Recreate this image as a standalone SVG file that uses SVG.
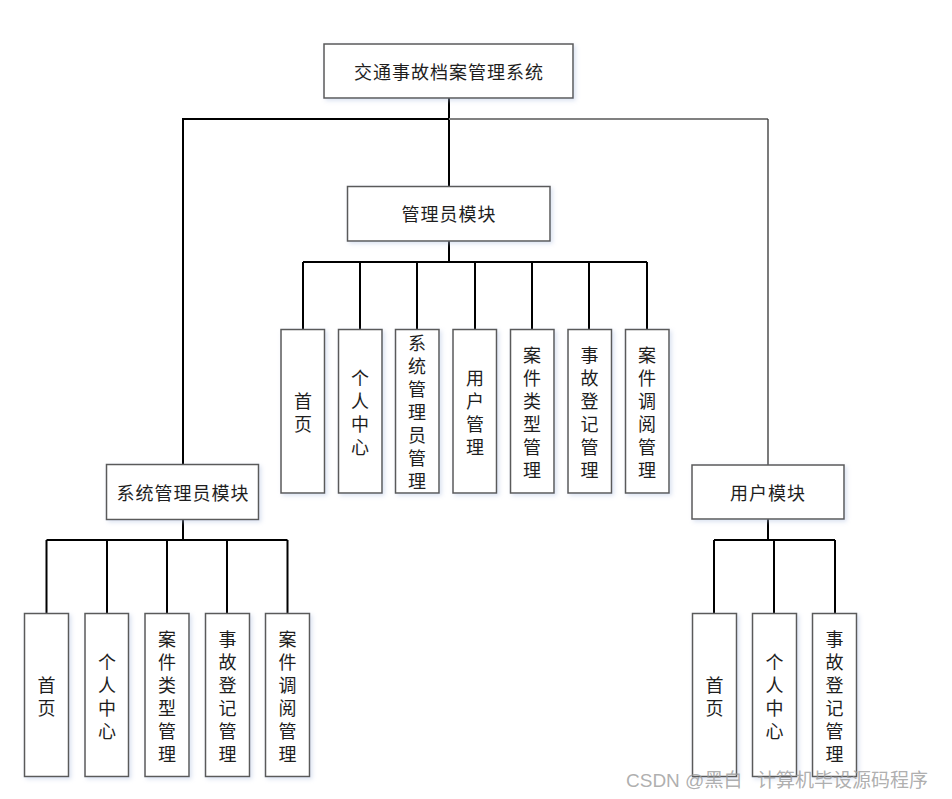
<svg xmlns="http://www.w3.org/2000/svg" width="952" height="799" viewBox="0 0 952 799">
<defs>
<filter id="sh" x="-20%" y="-20%" width="140%" height="140%">
<feDropShadow dx="2" dy="2" stdDeviation="2" flood-color="#aebfe0" flood-opacity="0.45"/>
</filter>
</defs>
<style>
.box{fill:#ffffff;stroke:#5a5a5a;stroke-width:1.5;filter:url(#sh)}
.t{font-family:"Noto Sans CJK SC","Noto Sans",sans-serif;font-size:18px;fill:#1e1e1e;text-anchor:middle;dominant-baseline:central;letter-spacing:1px}
.v{font-family:"Noto Sans CJK SC","Noto Sans",sans-serif;font-size:18px;fill:#1e1e1e;text-anchor:middle;dominant-baseline:central}
.ln{stroke:#000;stroke-width:2;fill:none}
.lg{stroke:#808080;stroke-width:2;fill:none}
.lt{stroke:#333;stroke-width:1.3;fill:none}
.wm{font-family:"Liberation Sans","Noto Sans CJK SC",sans-serif;font-size:19px;fill:#9a9a9a;fill-opacity:0.8}
</style>
<rect width="952" height="799" fill="#ffffff"/>
<g id="connectors">
<path class="ln" d="M449 98V186M449 119H183V465"/>
<path class="lg" d="M449 119H768"/>
<path class="lt" d="M768 119V465"/>
<path class="ln" d="M449 241V262M303 262H647M303 262V329M360 262V329M417 262V329M475 262V329M532 262V329M589 262V329M647 262V329"/>
<path class="ln" d="M183 519V540M46.5 540H287.5M46.5 540V613M107 540V613M167 540V613M227 540V613M287.5 540V613"/>
<path class="ln" d="M768 519V540M714 540H835M714 540V613M774 540V613M835 540V613"/>
</g>
<g id="root"><rect class="box" x="324" y="44" width="249" height="54"/><text class="t" x="449" y="71">交通事故档案管理系统</text></g>
<g id="admin"><rect class="box" x="347.5" y="186.5" width="202.5" height="54.5"/><text class="t" x="449" y="213">管理员模块</text></g>
<g id="sysadmin"><rect class="box" x="106.5" y="464.5" width="152" height="55"/><text class="t" x="183" y="492">系统管理员模块</text></g>
<g id="user"><rect class="box" x="692" y="465" width="152" height="54"/><text class="t" x="768" y="492">用户模块</text></g>

<g id="a1"><rect class="box" x="281" y="329.5" width="43.5" height="163.5"/><text class="v" x="303" y="399.5"><tspan x="303">首</tspan><tspan x="303" dy="23">页</tspan></text></g>
<g id="a2"><rect class="box" x="338.5" y="329.5" width="43.5" height="163.5"/><text class="v" x="360" y="376.5"><tspan x="360">个</tspan><tspan x="360" dy="23">人</tspan><tspan x="360" dy="23">中</tspan><tspan x="360" dy="23">心</tspan></text></g>
<g id="a3"><rect class="box" x="395.5" y="329.5" width="43.5" height="163.5"/><text class="v" x="417" y="342"><tspan x="417">系</tspan><tspan x="417" dy="23">统</tspan><tspan x="417" dy="23">管</tspan><tspan x="417" dy="23">理</tspan><tspan x="417" dy="23">员</tspan><tspan x="417" dy="23">管</tspan><tspan x="417" dy="23">理</tspan></text></g>
<g id="a4"><rect class="box" x="453" y="329.5" width="43.5" height="163.5"/><text class="v" x="475" y="376.5"><tspan x="475">用</tspan><tspan x="475" dy="23">户</tspan><tspan x="475" dy="23">管</tspan><tspan x="475" dy="23">理</tspan></text></g>
<g id="a5"><rect class="box" x="510.5" y="329.5" width="43.5" height="163.5"/><text class="v" x="532" y="353.5"><tspan x="532">案</tspan><tspan x="532" dy="23">件</tspan><tspan x="532" dy="23">类</tspan><tspan x="532" dy="23">型</tspan><tspan x="532" dy="23">管</tspan><tspan x="532" dy="23">理</tspan></text></g>
<g id="a6"><rect class="box" x="568" y="329.5" width="43.5" height="163.5"/><text class="v" x="589.5" y="353.5"><tspan x="589.5">事</tspan><tspan x="589.5" dy="23">故</tspan><tspan x="589.5" dy="23">登</tspan><tspan x="589.5" dy="23">记</tspan><tspan x="589.5" dy="23">管</tspan><tspan x="589.5" dy="23">理</tspan></text></g>
<g id="a7"><rect class="box" x="625.5" y="329.5" width="43.5" height="163.5"/><text class="v" x="647" y="353.5"><tspan x="647">案</tspan><tspan x="647" dy="23">件</tspan><tspan x="647" dy="23">调</tspan><tspan x="647" dy="23">阅</tspan><tspan x="647" dy="23">管</tspan><tspan x="647" dy="23">理</tspan></text></g>

<g id="s1"><rect class="box" x="24.5" y="613.5" width="44" height="163"/><text class="v" x="46.5" y="684"><tspan x="46.5">首</tspan><tspan x="46.5" dy="23">页</tspan></text></g>
<g id="s2"><rect class="box" x="85" y="613.5" width="43.5" height="163"/><text class="v" x="107" y="660.5"><tspan x="107">个</tspan><tspan x="107" dy="23">人</tspan><tspan x="107" dy="23">中</tspan><tspan x="107" dy="23">心</tspan></text></g>
<g id="s3"><rect class="box" x="145" y="613.5" width="44" height="163"/><text class="v" x="167" y="637.5"><tspan x="167">案</tspan><tspan x="167" dy="23">件</tspan><tspan x="167" dy="23">类</tspan><tspan x="167" dy="23">型</tspan><tspan x="167" dy="23">管</tspan><tspan x="167" dy="23">理</tspan></text></g>
<g id="s4"><rect class="box" x="205.5" y="613.5" width="44" height="163"/><text class="v" x="227.5" y="637.5"><tspan x="227.5">事</tspan><tspan x="227.5" dy="23">故</tspan><tspan x="227.5" dy="23">登</tspan><tspan x="227.5" dy="23">记</tspan><tspan x="227.5" dy="23">管</tspan><tspan x="227.5" dy="23">理</tspan></text></g>
<g id="s5"><rect class="box" x="265.5" y="613.5" width="44" height="163"/><text class="v" x="287.5" y="637.5"><tspan x="287.5">案</tspan><tspan x="287.5" dy="23">件</tspan><tspan x="287.5" dy="23">调</tspan><tspan x="287.5" dy="23">阅</tspan><tspan x="287.5" dy="23">管</tspan><tspan x="287.5" dy="23">理</tspan></text></g>

<g id="u1"><rect class="box" x="692.5" y="613.5" width="44" height="163"/><text class="v" x="714.5" y="684"><tspan x="714.5">首</tspan><tspan x="714.5" dy="23">页</tspan></text></g>
<g id="u2"><rect class="box" x="752.5" y="613.5" width="44" height="163"/><text class="v" x="774.5" y="660.5"><tspan x="774.5">个</tspan><tspan x="774.5" dy="23">人</tspan><tspan x="774.5" dy="23">中</tspan><tspan x="774.5" dy="23">心</tspan></text></g>
<g id="u3"><rect class="box" x="812.5" y="613.5" width="44" height="163"/><text class="v" x="834.5" y="637.5"><tspan x="834.5">事</tspan><tspan x="834.5" dy="23">故</tspan><tspan x="834.5" dy="23">登</tspan><tspan x="834.5" dy="23">记</tspan><tspan x="834.5" dy="23">管</tspan><tspan x="834.5" dy="23">理</tspan></text></g>

<text class="wm" x="626" y="787">CSDN @黑白<tspan x="757">计算机毕设源码程序</tspan></text>
</svg>
